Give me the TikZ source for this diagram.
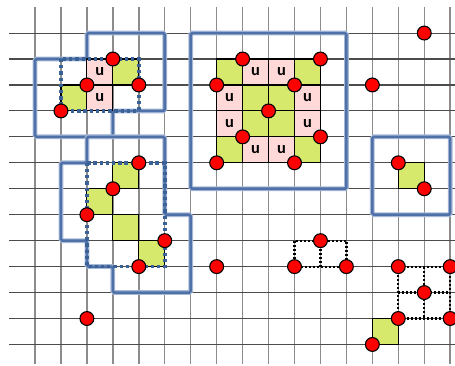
\documentclass[tikz,border=0pt]{standalone}
\usepackage{fontspec}
\newfontfamily\cellfont{Carlito}
\usepackage{tikz}
\usetikzlibrary{positioning}
\usepackage{xcolor}
\definecolor{boxblue}{RGB}{79,113,168}
\definecolor{haloblue}{RGB}{165,185,215}
\definecolor{dotblue}{RGB}{58,98,150}
\definecolor{cellgreen}{RGB}{214,233,108}
\definecolor{cellpink}{RGB}{255,216,216}
\definecolor{pointred}{RGB}{255,0,0}

\begin{document}
\begin{tikzpicture}[x=0.5cm, y=-0.5cm,
  greencell/.style={draw, line width=0.6pt, fill=cellgreen, minimum size=0.5cm, inner sep=0pt},
  pinkcell/.style={draw, line width=0.6pt, fill=cellpink, minimum size=0.5cm, inner sep=0pt, font=\cellfont\bfseries\fontsize{9}{9}\selectfont},
  reddot/.style={circle, draw, line width=0.6pt, fill=pointred, minimum size=7.6pt, inner sep=0pt},
  bluebox/.style={line width=2.6pt, haloblue, rounded corners=0.8pt, postaction={draw=boxblue, line width=1.4pt}},
  bluedots/.style={dotblue, line width=2pt, dash pattern=on 1.8pt off 1.6pt},
  blackdots/.style={black, line width=1.2pt, dash pattern=on 1.1pt off 1.1pt}]
  \useasboundingbox (-1.349,-1.274) rectangle (16.185,12.792);

  % Grid
  \foreach \i in {0,...,16}
    \draw[black!45, line width=0.8pt] (\i,-1) -- (\i,12.75);
  \foreach \j in {0,...,12}
    \draw[black!70, line width=0.6pt] (-1,\j) -- (16.185,\j);

  % Solid outlines
  \draw[bluebox] (0,1) -- (2,1) -- (2,0) -- (5,0) -- (5,3) -- (3,3) -- (3,4) -- (0,4) -- cycle;
  \draw[bluebox] (2,4) -- (5,4) -- (5,7) -- (6,7) -- (6,10) -- (3,10) -- (3,9) -- (2,9) -- (2,8) -- (1,8) -- (1,5) -- (2,5) -- cycle;
  \draw[bluebox] (6,0) rectangle (12,6);
  \draw[bluebox] (13,4) rectangle (16,7);

  % Top left cells
  \node[greencell] (g1) at (3.5,1.5) {};
  \node[greencell] (g2) at (1.5,2.5) {};
  \node[pinkcell] (u1) at (2.5,1.5) {u};
  \node[pinkcell] (u2) at (2.5,2.5) {u};

  % Diagonal cells
  \node[greencell] (g3) at (3.5,5.5) {};
  \node[greencell] (g4) at (2.5,6.5) {};
  \node[greencell] (g5) at (3.5,7.5) {};
  \node[greencell] (g6) at (4.5,8.5) {};

  % Big block
  \node[greencell] (g7) at (7.5,1.5) {};
  \node[pinkcell] (u3) at (8.5,1.5) {u};
  \node[pinkcell] (u4) at (9.5,1.5) {u};
  \node[greencell] (g8) at (10.5,1.5) {};
  \node[pinkcell] (u5) at (7.5,2.5) {u};
  \node[greencell] (g9) at (8.5,2.5) {};
  \node[greencell] (g10) at (9.5,2.5) {};
  \node[pinkcell] (u6) at (10.5,2.5) {u};
  \node[pinkcell] (u7) at (7.5,3.5) {u};
  \node[greencell] (g11) at (8.5,3.5) {};
  \node[greencell] (g12) at (9.5,3.5) {};
  \node[pinkcell] (u8) at (10.5,3.5) {u};
  \node[greencell] (g13) at (7.5,4.5) {};
  \node[pinkcell] (u9) at (8.5,4.5) {u};
  \node[pinkcell] (u10) at (9.5,4.5) {u};
  \node[greencell] (g14) at (10.5,4.5) {};

  % Single cells
  \node[greencell] (g15) at (14.5,5.5) {};
  \node[greencell] (g16) at (13.5,11.5) {};

  % Dotted outlines
  \draw[bluedots] (1,1) rectangle (4,3);
  \draw[bluedots] (2,5) rectangle (5,9);
  \draw[blackdots] (10,8) rectangle (12,9);
  \draw[blackdots] (11,8) -- (11,9);
  \draw[blackdots] (14,9) rectangle (16,11);
  \draw[blackdots] (15,9) -- (15,11);
  \draw[blackdots] (14,10) -- (16,10);

  % Points, top left
  \node[reddot] (p1) at (3,1) {};
  \node[reddot] (p2) at (2,2) {};
  \node[reddot] (p3) at (4,2) {};
  \node[reddot] (p4) at (1,3) {};

  % Points, diagonal
  \node[reddot] (p5) at (4,5) {};
  \node[reddot] (p6) at (3,6) {};
  \node[reddot] (p7) at (2,7) {};
  \node[reddot] (p8) at (5,8) {};
  \node[reddot] (p9) at (4,9) {};
  \node[reddot] (p10) at (2,11) {};
  \node[reddot] (p11) at (7,9) {};

  % Points, big block
  \node[reddot] (p12) at (8,1) {};
  \node[reddot] (p13) at (11,1) {};
  \node[reddot] (p14) at (7,2) {};
  \node[reddot] (p15) at (10,2) {};
  \node[reddot] (p16) at (9,3) {};
  \node[reddot] (p17) at (8,4) {};
  \node[reddot] (p18) at (11,4) {};
  \node[reddot] (p19) at (7,5) {};
  \node[reddot] (p20) at (10,5) {};

  % Points, right side
  \node[reddot] (p21) at (15,0) {};
  \node[reddot] (p22) at (13,2) {};
  \node[reddot] (p23) at (14,5) {};
  \node[reddot] (p24) at (15,6) {};
  \node[reddot] (p25) at (11,8) {};
  \node[reddot] (p26) at (10,9) {};
  \node[reddot] (p27) at (12,9) {};
  \node[reddot] (p28) at (14,9) {};
  \node[reddot] (p29) at (16,9) {};
  \node[reddot] (p30) at (15,10) {};
  \node[reddot] (p31) at (14,11) {};
  \node[reddot] (p32) at (16,11) {};
  \node[reddot] (p33) at (13,12) {};
\end{tikzpicture}
\end{document}
